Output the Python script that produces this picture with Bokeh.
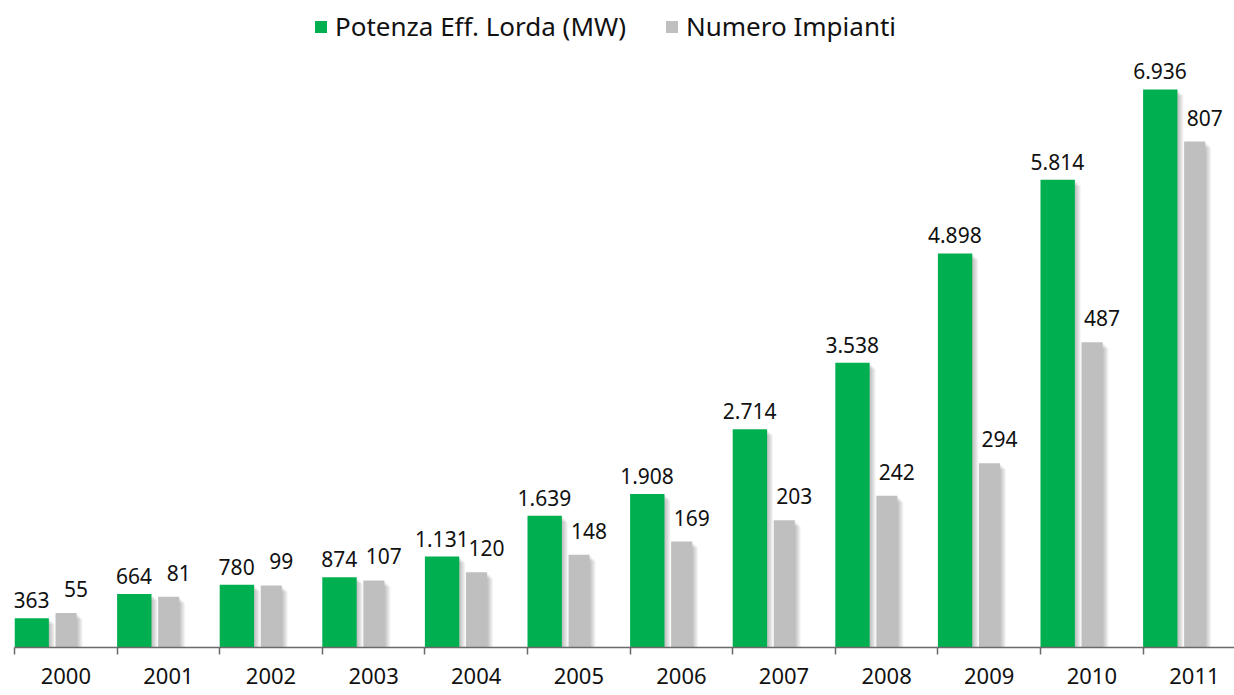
from bokeh.plotting import figure
from bokeh.models import Range1d, FixedTicker, ColumnDataSource, Legend, LegendItem, LabelSet
from bokeh.transform import dodge
from bokeh.core.properties import value
from bokeh.embed import file_html
from bokeh.resources import INLINE

# ---- data ----
years = [2000, 2001, 2002, 2003, 2004, 2005, 2006, 2007, 2008, 2009, 2010, 2011]
potenza = [363, 664, 780, 874, 1131, 1639, 1908, 2714, 3538, 4898, 5814, 6936]
impianti = [55, 81, 99, 107, 120, 148, 169, 203, 242, 294, 487, 807]
series_names = ["Potenza Eff. Lorda (MW)", "Numero Impianti"]

potenza_labels = [f"{v:,}".replace(",", ".") for v in potenza]
impianti_labels = [str(v) for v in impianti]

# ---- layout ----
W, H = 1234, 695
FRAME_LEFT = 14
BOTTOM_BORDER = 48
frame_h = H - BOTTOM_BORDER
px_per_cat = 102.6
px_per_mw = 0.08045
px_per_n = 0.627
x_end = (W - FRAME_LEFT) / px_per_cat
mw_end = frame_h / px_per_mw
n_end = frame_h / px_per_n

GREEN = "#00B050"
GRAY = "#BFBFBF"
FONT = "Noto Sans"

g_w, g_c = 0.335, 0.1675
n_w, n_c = 0.205, 0.40 + 0.1025

idx = list(range(len(years)))
data = dict(x=idx, potenza=potenza, impianti=impianti,
            plab=potenza_labels, nlab=impianti_labels)
NSH = 6
for k in range(1, NSH + 1):
    data[f"gs{k}"] = [v - k / px_per_mw for v in potenza]
    data[f"ns{k}"] = [v - k / px_per_n for v in impianti]
src = ColumnDataSource(data)

p = figure(width=W, height=H, output_backend="svg", toolbar_location=None,
           x_range=Range1d(0, x_end), y_range=Range1d(0, mw_end),
           min_border_left=FRAME_LEFT, min_border_right=0,
           min_border_top=0, min_border_bottom=BOTTOM_BORDER,
           background_fill_color="white", border_fill_color="white")
p.extra_y_ranges = {"n": Range1d(0, n_end)}
p.outline_line_color = None
p.grid.visible = False
p.yaxis.visible = False

# soft shadows
dx = 1.0 / px_per_cat
for k in range(1, NSH + 1):
    p.vbar(x=dodge("x", g_c + k * dx, range=p.x_range), top=f"gs{k}", bottom=0, width=g_w,
           source=src, fill_color="black", fill_alpha=0.045, line_color=None)
    p.vbar(x=dodge("x", n_c + k * dx, range=p.x_range), top=f"ns{k}", bottom=0, width=n_w,
           source=src, fill_color="black", fill_alpha=0.045, line_color=None, y_range_name="n")

rg = p.vbar(x=dodge("x", g_c, range=p.x_range), top="potenza", bottom=0, width=g_w,
            source=src, fill_color=GREEN, line_color=None)
rn = p.vbar(x=dodge("x", n_c, range=p.x_range), top="impianti", bottom=0, width=n_w,
            source=src, fill_color=GRAY, line_color=None, y_range_name="n")

lg = LabelSet(x=dodge("x", 0.165, range=p.x_range), y="potenza", text="plab", source=src,
              text_align="center", text_baseline="alphabetic", y_offset=10,
              text_font=value(FONT), text_font_size="21px", text_color="#111111")
ln = LabelSet(x=dodge("x", 0.6, range=p.x_range), y="impianti", text="nlab", source=src,
              text_align="center", text_baseline="alphabetic", y_offset=16, y_range_name="n",
              text_font=value(FONT), text_font_size="21px", text_color="#111111")
p.add_layout(lg)
p.add_layout(ln)

# axis
ax = p.xaxis[0]
ax.ticker = FixedTicker(ticks=[i + 0.5 for i in idx], minor_ticks=list(range(len(years) + 1)))
ax.major_label_overrides = {i + 0.5: str(y) for i, y in zip(idx, years)}
ax.major_tick_line_color = None
ax.major_tick_in = 0
ax.major_tick_out = 0
ax.minor_tick_in = 0
ax.minor_tick_out = 7
ax.minor_tick_line_color = "#6a6a6a"
ax.minor_tick_line_width = 1.5
ax.axis_line_color = "#6a6a6a"
ax.axis_line_width = 1.5
ax.major_label_standoff = 13
ax.major_label_text_font = FONT
ax.major_label_text_font_size = "22px"
ax.major_label_text_color = "#111111"

legend = Legend(items=[LegendItem(label=series_names[0], renderers=[rg]),
                       LegendItem(label=series_names[1], renderers=[rn])],
                location=(299, frame_h - 44), orientation="horizontal",
                border_line_color=None, background_fill_alpha=0,
                padding=0, margin=0, spacing=38, label_standoff=7,
                glyph_width=15, glyph_height=15,
                label_text_font=FONT, label_text_font_size="26px",
                label_text_color="#111111")
p.add_layout(legend)

open("out.html", "w").write(file_html(p, INLINE))
